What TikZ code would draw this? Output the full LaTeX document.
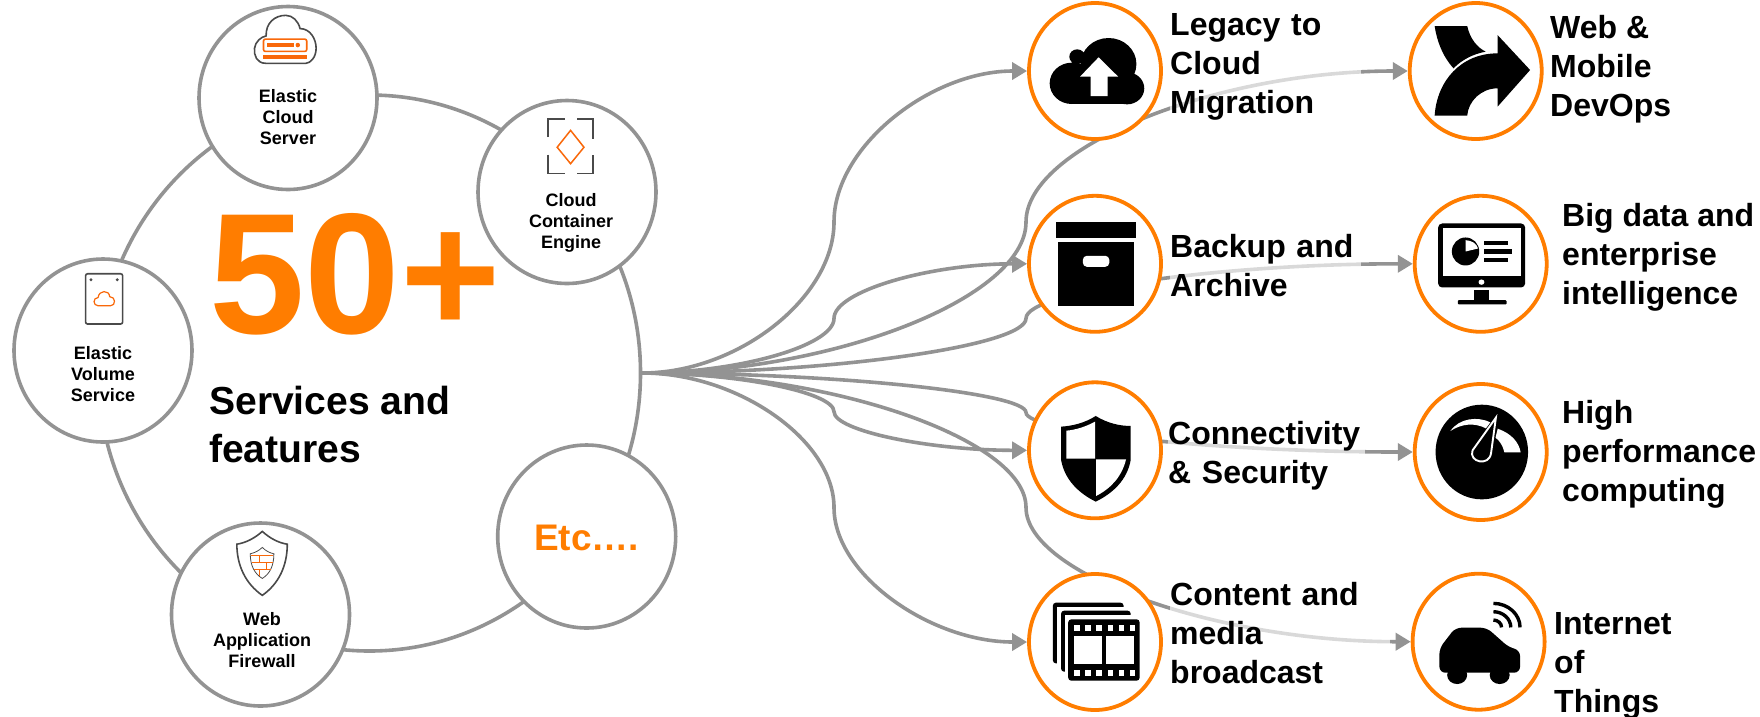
\documentclass[tikz,border=0pt]{standalone}
\usepackage{fontspec}
\setmainfont{Liberation Sans}
\usetikzlibrary{arrows.meta,calc,shapes.geometric}
\pgfdeclarelayer{lines}
\pgfsetlayers{lines,main}
\definecolor{ora}{HTML}{FF7D00}
\definecolor{iora}{HTML}{F9680A}
\definecolor{gry}{HTML}{939393}
\definecolor{dgr}{HTML}{4A4A4A}
\tikzset{
  svc/.style={ellipse,draw=gry,line width=3.6pt,fill=white,minimum width=178pt,minimum height=183pt,inner sep=0},
  svclab/.style={align=center,font=\fontsize{18}{21}\selectfont\bfseries,inner sep=0},
  tgt/.style={ellipse,draw=ora,line width=3.8pt,fill=white,minimum width=132pt,minimum height=136pt,inner sep=0},
  lab/.style={anchor=west,align=left,inner sep=0,font=\fontsize{32}{39}\selectfont\bfseries},
  boxlab/.style={lab,fill=white,fill opacity=.65,text opacity=1},
  conn/.style={draw=gry,line width=3.6pt},
  arrowconn/.style={conn,-{Triangle[length=15pt,width=17pt]}},
}
\newcommand{\elbow}[2]{%
  \draw[arrowconn] let \p1=(hub), \p2=(#1) in
    (\x1,\y1) .. controls ({(\x1+#2)/2},\y1) and (#2,{(3*\y1+\y2)/4}) ..
    (#2,{(\y1+\y2)/2}) .. controls (#2,{(\y1+3*\y2)/4}) and ({(#2+\x2)/2},\y2) .. (\x2,\y2);}
\begin{document}
\begin{tikzpicture}[x=1pt,y=-1pt]
\useasboundingbox (0,0) rectangle (1760,716);
% big circle and services
\node[ellipse,draw=gry,line width=3.6pt,minimum width=542pt,minimum height=556pt,inner sep=0] (big) at (369.5,373) {};
\coordinate (hub) at (big.east);
\node[svc] (ecs) at (288,98) {};
\node[svc] (cce) at (567,192) {};
\node[svc] (evs) at (103,350.5) {};
\node[svc] (waf) at (260.5,614.5) {};
\node[svc] (etc) at (586.7,536.5) {};
\node[svclab] (ecsl) at (288,117.5) {Elastic\\Cloud\\Server};
\node[svclab] (ccel) at (571,222.5) {Cloud\\Container\\Engine};
\node[svclab] (evsl) at (103,374.5) {Elastic\\Volume\\Service};
\node[svclab] (wafl) at (262,640.5) {Web\\Application\\Firewall};
\node[text=ora,inner sep=0,font=\fontsize{37}{40}\selectfont\bfseries] (etcl) at (586.5,538) {Etc….};
\node[text=ora,anchor=base west,inner sep=0,font=\fontsize{172}{176}\selectfont\bfseries] (fifty) at (209,333) {50+};
\node[anchor=base west,inner sep=0,font=\fontsize{39.1}{48}\selectfont\bfseries] (sf1) at (209,414) {Services and};
\node[anchor=base west,inner sep=0,font=\fontsize{39.1}{48}\selectfont\bfseries] (sf2) at (209,462) {features};
% targets
\node[tgt] (t1) at (1095,71) {};
\node[tgt] (t2) at (1095,263.8) {};
\node[tgt] (t3) at (1095,450.3) {};
\node[tgt] (t4) at (1095,642) {};
\node[tgt] (u1) at (1475.7,71) {};
\node[tgt] (u2) at (1480.7,263.8) {};
\node[tgt] (u3) at (1480.7,452) {};
\node[tgt] (u4) at (1478.6,641.7) {};
% labels
\node[boxlab,text width=191pt] (l1) at (1170,66.5) {Legacy to\\Cloud\\Migration};
\node[boxlab,text width=191pt] (l2) at (1170,265.5) {Backup and\\Archive};
\node[boxlab,text width=197pt] (l3) at (1168,456) {Connectivity\\\& Security};
\node[boxlab,text width=220pt] (l4) at (1170,633) {Content and\\media\\broadcast};
\node[lab] (m1) at (1550,69) {Web \&\\Mobile\\DevOps};
\node[lab] (m2) at (1562,257) {Big data and\\enterprise\\intelligence};
\node[lab] (m3) at (1562,454) {High\\performance\\computing};
\node[lab] (m4) at (1554,666) {Internet\\of\\Things};
% connectors
\begin{pgfonlayer}{lines}
\elbow{t1.west}{834pt}
\elbow{t2.west}{834pt}
\elbow{t3.west}{834pt}
\elbow{t4.west}{834pt}
\elbow{u1.west}{1026pt}
\elbow{u2.west}{1026pt}
\elbow{u3.west}{1026pt}
\elbow{u4.west}{1026pt}
\end{pgfonlayer}
% icons: service circles
\begin{scope}[shift={(ecs.center)},xscale=.4464,yscale=.4566,shift={(-645,-214)}]
 \draw[dgr,line width=1.6pt,fill=white] (595,138) .. controls (575,138) and (568,120) .. (570,105) .. controls (572,90) and (585,80) .. (596,78) .. controls (595,50) and (615,33) .. (640,33) .. controls (655,33) and (668,45) .. (672,62) .. controls (695,62) and (708,85) .. (708,105) .. controls (708,125) and (695,138) .. (685,138) -- cycle;
 \draw[iora,line width=1.6pt,rounded corners=2pt,fill=white] (590,85) rectangle (687,112);
 \fill[iora] (598,94) rectangle (658,103);
 \fill[iora] (667,98) circle (5);
 \fill[iora] (590,119) rectangle (687,128);
\end{scope}
\begin{scope}[shift={(cce.center)},xscale=.4464,yscale=.4566,shift={(-1270,-420)}]
 \draw[dgr,line width=1.5pt] (1227,300) -- (1227,260) -- (1265,260) (1293,260) -- (1328,260) -- (1328,305) (1227,338) -- (1227,380) -- (1265,380) (1293,380) -- (1328,380) -- (1328,338);
 \draw[iora,line width=1.5pt] (1278,285) -- (1308,322) -- (1278,358) -- (1248,322) -- cycle;
\end{scope}
\begin{scope}[shift={(evs.center)},xscale=.4464,yscale=.4566,shift={(-231,-768)}]
 \draw[dgr,line width=1.6pt,rounded corners=2pt] (192,600) rectangle (275,710);
 \fill[dgr] (204,613) circle (3.5) (263,613) circle (3.5);
 \draw[iora,line width=1.2pt] (220,670) .. controls (208,670) and (208,652) .. (220,652) .. controls (222,635) and (245,635) .. (246,650) .. controls (260,650) and (260,670) .. (248,670) -- cycle;
\end{scope}
\begin{scope}[shift={(waf.center)},xscale=.4464,yscale=.4566,shift={(-583,-1347)}]
 \draw[dgr,line width=1.6pt] (587,1165) .. controls (570,1180) and (550,1190) .. (530,1193) .. controls (530,1240) and (550,1280) .. (587,1305) .. controls (624,1280) and (643,1240) .. (643,1193) .. controls (623,1190) and (604,1180) .. (587,1165) -- cycle;
 \draw[dgr,line width=.8pt] (587,1200) .. controls (580,1207) and (570,1212) .. (560,1214) .. controls (560,1240) and (570,1258) .. (587,1268) .. controls (604,1258) and (613,1240) .. (613,1214) .. controls (603,1212) and (594,1207) .. (587,1200) -- cycle;
 \draw[iora,line width=1.2pt] (562,1217) -- (612,1217) (563,1233) -- (611,1233) (568,1248) -- (606,1248) (580,1217) -- (580,1233) (597,1233) -- (597,1248) (580,1248) -- (580,1262);
\end{scope}
% icons: first target column
\begin{scope}[shift={(t1.center)},xscale=.357,yscale=.3333,shift={(-1330,-213)}]
 \fill[black] (1368,192) circle (78) (1265,250) circle (62) (1420,265) circle (48) (1280,170) circle (22);
 \fill[black] (1265,230) rectangle (1425,313);
 \fill[white] (1340,172) -- (1395,230) -- (1365,230) -- (1365,288) -- (1318,288) -- (1318,230) -- (1288,230) -- cycle;
\end{scope}
\begin{scope}[shift={(t2.center)},xscale=.357,yscale=.3333,shift={(-1330,-791)}]
 \fill[black] (1220,667) rectangle (1446,715);
 \fill[black] (1227,725) rectangle (1438,917);
 \fill[white,rounded corners=4pt] (1296,767) rectangle (1370,800);
\end{scope}
\begin{scope}[shift={(t3.center)},xscale=.357,yscale=.3333,shift={(-1330,-271)}]
 \fill[black] (1332,168) .. controls (1300,190) and (1265,198) .. (1235,200) -- (1235,300) .. controls (1245,360) and (1285,400) .. (1332,425) .. controls (1380,400) and (1420,360) .. (1430,300) -- (1430,198) .. controls (1400,198) and (1365,190) .. (1332,168) -- cycle;
 \fill[white] (1330,185) .. controls (1305,200) and (1275,210) .. (1250,212) -- (1250,296) -- (1330,296) -- cycle;
 \fill[white] (1333,298) -- (1417,298) .. controls (1405,350) and (1375,385) .. (1333,408) -- cycle;
\end{scope}
\begin{scope}[shift={(t4.center)},xscale=.357,yscale=.3333,shift={(-1330,-846)}]
 \fill[black,rounded corners=3pt] (1212,728) rectangle (1410,910);
 \fill[white] (1224,742) rectangle (1420,925);
 \fill[black,rounded corners=3pt] (1235,752) rectangle (1430,935);
 \fill[white] (1247,766) rectangle (1440,950);
 \fill[black,rounded corners=3pt] (1255,778) rectangle (1455,962);
 \foreach \i in {0,...,5} {
   \fill[white] ({1272+\i*31},795) rectangle ({1287+\i*31},812);
   \fill[white] ({1272+\i*31},930) rectangle ({1287+\i*31},947);
 }
 \fill[white] (1272,828) rectangle (1350,912);
 \fill[white] (1362,828) rectangle (1440,912);
\end{scope}
% icons: second target column
\begin{scope}[shift={(u1.center)},xscale=.37,yscale=.3333,shift={(-798,-213)}]
 \fill[black] (687,78) -- (775,78) .. controls (783,118) and (803,143) .. (825,155) .. controls (790,162) and (760,180) .. (738,205) .. controls (708,168) and (693,123) .. cycle;
 \fill[black] (945,210) -- (857,105) -- (857,160) .. controls (758,160) and (693,243) .. (687,347) -- (775,347) .. controls (778,303) and (813,265) .. (857,265) -- (857,320) -- cycle;
\end{scope}
\begin{scope}[shift={(u2.center)},xscale=.37,yscale=.3333,shift={(-812,-791)}]
 \fill[black,rounded corners=4pt] (697,670) rectangle (932,862);
 \fill[white] (710,685) rectangle (920,828);
 \fill[white] (814,846) circle (8);
 \fill[black] (795,870) rectangle (835,902);
 \fill[black,rounded corners=1pt] (750,900) rectangle (882,913);
 \fill[black] (771,754) ellipse [x radius=37,y radius=42];
 \fill[white] (771,720) -- (771,754) -- (805,745) .. controls (800,730) and (790,722) .. cycle;
 \fill[black] (822,722) rectangle (885,735);
 \fill[black] (822,748) rectangle (897,761);
 \fill[black] (822,773) rectangle (885,786);
\end{scope}
\begin{scope}[shift={(u3.center)},xscale=.37,yscale=.3333,shift={(-812,-275)}]
 \fill[black] (815,275) ellipse [x radius=125,y radius=142];
 \fill[white] (730,212) .. controls (755,172) and (805,168) .. (838,186) -- (826,204) .. controls (795,186) and (760,190) .. cycle;
 \fill[white] (858,205) .. controls (895,220) and (915,245) .. (920,276) -- (876,276) .. controls (872,255) and (862,240) .. (852,232) -- cycle;
 \draw[white,line width=1.9pt] (853,172) -- (790,270) .. controls (778,305) and (835,320) .. (840,278) -- cycle;
\end{scope}
\begin{scope}[shift={(u4.center)},xscale=.37,yscale=.3333,shift={(-808,-845)}]
 \fill[black,rounded corners=6pt] (745,803) -- (830,803) -- (890,862) -- (920,870) -- (920,938) -- (702,938) -- (702,865) -- cycle;
 \fill[black] (750,945) circle (27) (865,945) circle (27);
 \foreach \r in {22,47,72} {
   \draw[black,line width=3.4pt] (848,{802-\r}) .. controls ({848+.55*\r},{802-\r}) and ({848+\r},{802-.55*\r}) .. ({848+\r},802);
 }
\end{scope}
\end{tikzpicture}
\end{document}
